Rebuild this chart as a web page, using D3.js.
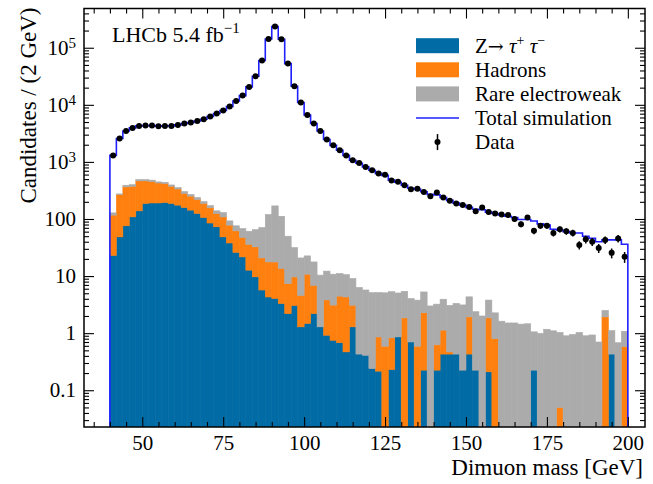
<!DOCTYPE html>
<html>
<head>
<meta charset="utf-8">
<script src="https://cdn.jsdelivr.net/npm/d3@7"></script>
<style>
  body { margin: 0; background: #fff; }
  svg { font-family: "Liberation Serif", "DejaVu Serif", serif; }
</style>
</head>
<body>
<script>
// bins of 2 GeV from 40 to 200
var binLow = 40, binWidth = 2;

// data, candidates per bin
var dataCounts = [
  1300, 2570, 3490, 3940, 4270, 4330, 4330, 4220, 4270, 4270,
  4450, 4700, 4900, 5220, 5600, 6240, 7030, 7940, 9330, 11700,
  14500, 20600, 31700, 59700, 142000, 235000, 141000, 52800, 21200, 11000,
  6650, 4700, 3490, 2470, 1950, 1600, 1300, 1070, 960, 817,
  716, 626, 597, 472, 447, 391, 333, 338, 298, 251,
  291, 238, 208, 187, 175, 163, 137, 159, 132, 125,
  120, 117, 100, 81, 106, 62, 76, 76, 57, 66,
  61, 57, 35, 44, 40, 31, 43, 25.5, 45.5, 21.7
];

// total simulation (step line)
var totalSim = [
  1300, 2570, 3490, 3940, 4270, 4330, 4330, 4220, 4270, 4270,
  4450, 4700, 4900, 5220, 5600, 6240, 7030, 7940, 9330, 11700,
  14500, 20600, 31700, 59700, 142000, 235000, 141000, 52800, 21200, 11000,
  6650, 4700, 3490, 2470, 1950, 1600, 1300, 1070, 950, 820,
  716, 630, 580, 480, 440, 390, 345, 330, 300, 270,
  265, 238, 212, 190, 175, 160, 148, 145, 132, 125,
  118, 112, 106, 98, 98, 92, 82, 78, 66, 64,
  60, 57, 57, 50, 46, 40, 43, 43, 43, 36
];

// stacked components
var zTauTau = [
  23, 48.6, 76, 109, 139, 187, 191, 191, 194, 187,
  175, 159, 143, 125, 106, 85, 73, 48.6, 38, 26,
  21.7, 12.7, 9.7, 5.7, 4.3, 4.05, 3.3, 2.2, 3.06, 1.29,
  1.48, 2.2, 1.29, 0.92, 0.75, 0.68, 0.47, 1.29, 0.43, 0.41,
  0.24, 0.216, 0, 0.23, 0.86, 0, 0.7, 0, 0.225, 0,
  0.225, 0.43, 0.43, 0.43, 0.225, 0.43, 0.225, 0, 0.21, 0,
  0, 0, 0, 0, 0, 0.225, 0, 0, 0, 0,
  0, 0, 0, 0, 0, 0, 0, 0.43, 0, 0
];
var hadrons = [
  94, 220, 289, 266, 326, 278, 263, 237, 224, 188,
  161, 120, 108, 95, 81, 72, 52, 60, 40, 36,
  25.8, 23.3, 22.8, 15.1, 13.4, 13.6, 10.3, 5.2, 6.6, 3.3,
  9.3, 4.7, 0, 2.9, 2.35, 3.77, 3.83, 1.8, 0, 0,
  0, 0.64, 0.59, 0.6, 0, 1.85, 0, 0.59, 2.05, 0,
  0.4, 0.7, 0.04, 0, 0, 1.5, 0, 0, 1.64, 0.8,
  0, 0, 0, 0, 0, 0, 0, 0, 0, 0.05,
  0, 0, 0, 0, 0, 0, 1.93, 0, 0, 0.58
];
var rareEW = [
  11, 6, 25, 25, 25, 25, 26, 19, 22, 20,
  20, 24, 18, 18, 15, 15, 14, 21, 14.7, 14,
  20.5, 25, 32.5, 50, 102, 152, 98, 42.6, 21.9, 16.2,
  11.8, 10.8, 9.1, 8.4, 7.7, 6.65, 6.3, 6.0, 5.9, 5.3,
  4.9, 4.3, 4.5, 4.5, 4.2, 3.55, 3.35, 3.2, 3.0, 3.0,
  2.6, 2.8, 2.6, 2.9, 2.9, 2.4, 2.15, 2.0, 1.95, 1.47,
  1.62, 1.51, 1.51, 1.44, 1.46, 0.83, 0.99, 1.17, 1.1, 0.98,
  0.9, 0.95, 1.03, 0.9, 0.93, 0.7, 0.57, 0.68, 0.68, 0.5
];

var seriesKeys = ['ztt', 'had', 'rare'];
var seriesColors = { ztt: '#006ba4', had: '#ff800e', rare: '#ababab' };
var legendLabels = ['Hadrons', 'Rare electroweak', 'Total simulation', 'Data'];

var xTicks = [50, 75, 100, 125, 150, 175, 200];
var yTicks = [0.1, 1, 10, 100, 1e3, 1e4, 1e5];

(function () {
  var width = 653, height = 484;
  var pL = 84, pR = 645, pT = 8.5, pB = 427;

  var svg = d3.select('body').append('svg')
    .attr('width', width).attr('height', height);

  var x = d3.scaleLinear().domain([32, 205.3]).range([pL, pR]);
  var y = d3.scaleLog().domain([0.0227, 4.87e5]).range([pB, pT]);

  svg.append('clipPath').attr('id', 'plotclip')
    .append('rect').attr('x', pL).attr('y', pT)
    .attr('width', pR - pL).attr('height', pB - pT);

  var plot = svg.append('g').attr('clip-path', 'url(#plotclip)');

  // stacked histogram
  var rows = zTauTau.map(function (v, i) {
    return { lo: binLow + i * binWidth, ztt: v, had: hadrons[i], rare: rareEW[i] };
  });
  var stacked = d3.stack().keys(seriesKeys)(rows);

  function yClamp(v) {
    return v <= 0 ? pB + 2 : y(v);
  }

  stacked.forEach(function (layer) {
    plot.append('g').selectAll('rect')
      .data(layer.filter(function (d) { return d[1] > d[0]; }))
      .enter().append('rect')
      .attr('x', function (d) { return x(d.data.lo); })
      .attr('width', x(binLow + binWidth) - x(binLow))
      .attr('y', function (d) { return y(d[1]); })
      .attr('height', function (d) { return yClamp(d[0]) - y(d[1]); })
      .attr('fill', seriesColors[layer.key])
      .attr('stroke', seriesColors[layer.key])
      .attr('stroke-width', 0.6);
  });

  // total simulation step line
  var simPts = [{ m: binLow, v: 0 }];
  totalSim.forEach(function (v, i) { simPts.push({ m: binLow + i * binWidth, v: v }); });
  simPts.push({ m: binLow + totalSim.length * binWidth, v: totalSim[totalSim.length - 1] });
  simPts.push({ m: binLow + totalSim.length * binWidth, v: 0 });

  var simLine = d3.line()
    .x(function (d) { return x(d.m); })
    .y(function (d) { return yClamp(d.v); })
    .curve(d3.curveStepAfter);

  plot.append('path')
    .attr('d', simLine(simPts))
    .attr('fill', 'none')
    .attr('stroke', '#1f1fff')
    .attr('stroke-width', 1.6);

  // data points with poisson errors
  var pts = dataCounts.map(function (v, i) {
    return { m: binLow + (i + 0.5) * binWidth, v: v, e: Math.sqrt(v) };
  });
  plot.append('g').selectAll('line')
    .data(pts).enter().append('line')
    .attr('x1', function (d) { return x(d.m); })
    .attr('x2', function (d) { return x(d.m); })
    .attr('y1', function (d) { return y(d.v - d.e); })
    .attr('y2', function (d) { return y(d.v + d.e); })
    .attr('stroke', '#000').attr('stroke-width', 1.5);
  plot.append('g').selectAll('circle')
    .data(pts).enter().append('circle')
    .attr('cx', function (d) { return x(d.m); })
    .attr('cy', function (d) { return y(d.v); })
    .attr('r', 3)
    .attr('fill', '#000');

  // axes, ticks inside on all four sides
  var xMinor = d3.range(35, 205, 5).filter(function (t) { return t % 25 !== 0; });
  var yMinor = [];
  [0.01, 0.1, 1, 10, 100, 1e3, 1e4, 1e5].forEach(function (dec) {
    for (var k = 2; k <= 9; k++) {
      var t = k * dec;
      if (t > y.domain()[0] && t < y.domain()[1]) yMinor.push(t);
    }
  });

  function styleAxis(g) {
    g.select('.domain').remove();
    g.selectAll('line').attr('stroke', '#000').attr('stroke-width', 1.1);
  }

  svg.append('g').attr('transform', 'translate(0,' + pB + ')')
    .call(d3.axisBottom(x).tickValues(xTicks).tickSize(-10).tickPadding(8))
    .call(styleAxis)
    .selectAll('text').attr('font-size', 21).attr('fill', '#000')
    .attr('font-family', '"Liberation Serif", serif');
  svg.append('g').attr('transform', 'translate(0,' + pB + ')')
    .call(d3.axisBottom(x).tickValues(xMinor).tickSize(-5).tickFormat(''))
    .call(styleAxis);
  svg.append('g').attr('transform', 'translate(0,' + pT + ')')
    .call(d3.axisTop(x).tickValues(xTicks).tickSize(-10).tickFormat(''))
    .call(styleAxis);
  svg.append('g').attr('transform', 'translate(0,' + pT + ')')
    .call(d3.axisTop(x).tickValues(xMinor).tickSize(-5).tickFormat(''))
    .call(styleAxis);

  var yAxisG = svg.append('g').attr('transform', 'translate(' + pL + ',0)')
    .call(d3.axisLeft(y).tickValues(yTicks).tickSize(-10).tickPadding(8)
      .tickFormat(function (d) { return d >= 1000 ? '10' : d3.format('~g')(d); }))
    .call(styleAxis);
  yAxisG.selectAll('text')
    .attr('font-size', 21).attr('fill', '#000')
    .attr('font-family', '"Liberation Serif", serif')
    .each(function (d) {
      if (d >= 1000) {
        d3.select(this).append('tspan')
          .attr('dy', '-0.45em').attr('font-size', 15)
          .text(Math.round(Math.log10(d)));
      }
    });
  svg.append('g').attr('transform', 'translate(' + pL + ',0)')
    .call(d3.axisLeft(y).tickValues(yMinor).tickSize(-5).tickFormat(''))
    .call(styleAxis);
  svg.append('g').attr('transform', 'translate(' + pR + ',0)')
    .call(d3.axisRight(y).tickValues(yTicks).tickSize(-10).tickFormat(''))
    .call(styleAxis);
  svg.append('g').attr('transform', 'translate(' + pR + ',0)')
    .call(d3.axisRight(y).tickValues(yMinor).tickSize(-5).tickFormat(''))
    .call(styleAxis);

  // frame
  svg.append('rect')
    .attr('x', pL).attr('y', pT)
    .attr('width', pR - pL).attr('height', pB - pT)
    .attr('fill', 'none').attr('stroke', '#000').attr('stroke-width', 1.5);

  // axis titles
  svg.append('text')
    .attr('x', pR - 2).attr('y', 475)
    .attr('text-anchor', 'end')
    .attr('font-size', 23)
    .text('Dimuon mass [GeV]');
  svg.append('text')
    .attr('transform', 'translate(36,' + (pT - 1) + ') rotate(-90)')
    .attr('text-anchor', 'end')
    .attr('font-size', 23)
    .text('Candidates / (2 GeV)');

  // experiment label
  var lhcb = svg.append('text')
    .attr('x', 112).attr('y', 42)
    .attr('font-size', 22)
    .text('LHCb 5.4 fb');
  lhcb.append('tspan').attr('dy', -9).attr('font-size', 15).text('\u22121');

  // legend
  var lgX = 416, lgTextX = 475, lgY0 = 45.7, lgStep = 24.1;
  var lg = svg.append('g');
  seriesKeys.forEach(function (k, i) {
    lg.append('rect')
      .attr('x', lgX).attr('y', lgY0 + i * lgStep - 7.5)
      .attr('width', 43).attr('height', 15)
      .attr('fill', seriesColors[k]);
  });
  lg.append('line')
    .attr('x1', lgX).attr('x2', lgX + 43)
    .attr('y1', lgY0 + 3 * lgStep).attr('y2', lgY0 + 3 * lgStep)
    .attr('stroke', '#1f1fff').attr('stroke-width', 1.6);
  lg.append('line')
    .attr('x1', lgX + 21.5).attr('x2', lgX + 21.5)
    .attr('y1', lgY0 + 4 * lgStep - 8).attr('y2', lgY0 + 4 * lgStep + 8)
    .attr('stroke', '#000').attr('stroke-width', 1.5);
  lg.append('circle')
    .attr('cx', lgX + 21.5).attr('cy', lgY0 + 4 * lgStep).attr('r', 3)
    .attr('fill', '#000');

  var zText = lg.append('text')
    .attr('x', lgTextX).attr('y', lgY0).attr('dy', '0.35em')
    .attr('font-size', 21);
  zText.append('tspan').text('Z');
  zText.append('tspan').attr('font-family', '"DejaVu Serif", serif')
    .attr('font-size', 19).text('\u2192');
  zText.append('tspan').text(' ');
  zText.append('tspan').attr('font-style', 'italic').text('\u03c4');
  zText.append('tspan').attr('dy', -8).attr('font-size', 14).text('+');
  zText.append('tspan').attr('dy', 8).text(' ');
  zText.append('tspan').attr('font-style', 'italic').text('\u03c4');
  zText.append('tspan').attr('dy', -8).attr('font-size', 14).text('\u2212');

  legendLabels.forEach(function (t, i) {
    lg.append('text')
      .attr('x', lgTextX).attr('y', lgY0 + (i + 1) * lgStep).attr('dy', '0.35em')
      .attr('font-size', 21)
      .text(t);
  });
})();
</script>
</body>
</html>
